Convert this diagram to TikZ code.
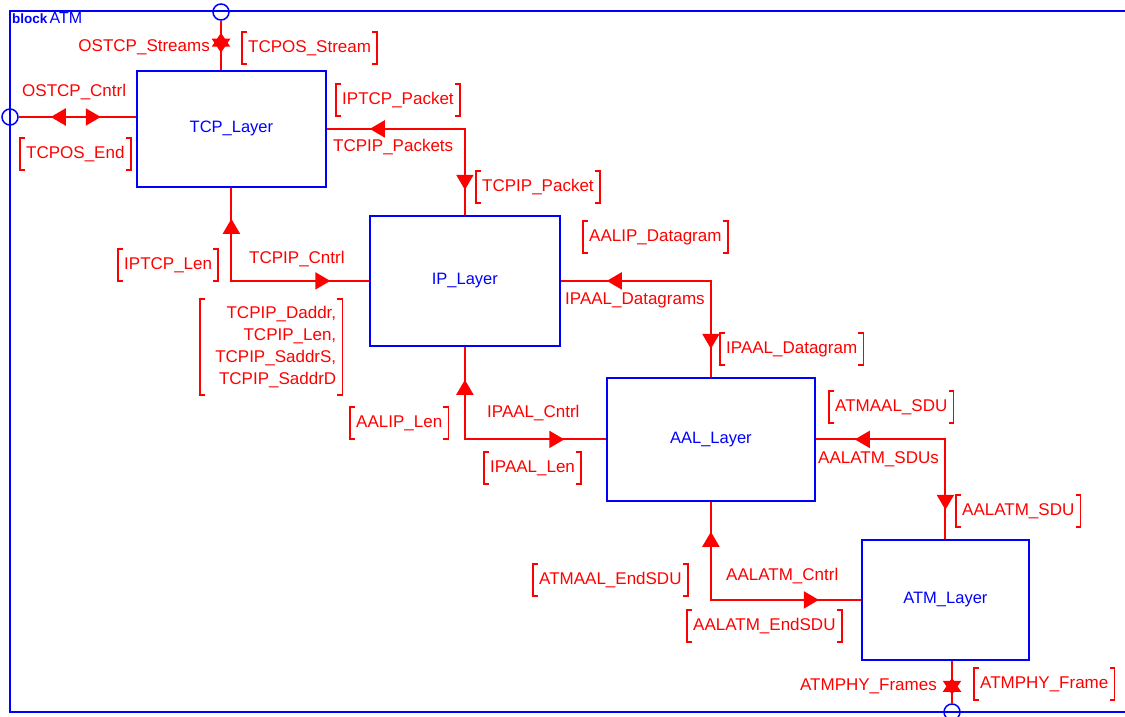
\documentclass[tikz,border=0pt]{standalone}
\usepackage{fontspec}
\setmainfont{Liberation Sans}
\usetikzlibrary{arrows.meta,decorations.markings}
\definecolor{sdlred}{RGB}{255,0,0}
\definecolor{sdlblue}{RGB}{0,0,255}
\tikzset{
  sdltri/.tip={Triangle[length=15pt,width=17pt]},
  sdlstar/.tip={Triangle[length=14pt,width=18pt]},
  layer/.style={draw=sdlblue, line width=1.8pt, text=sdlblue,
    font=\fontsize{16.5}{18}\selectfont, anchor=north west, inner sep=0pt},
  port/.style={draw=sdlblue, line width=1.5pt, circle, minimum size=16pt, inner sep=0pt},
  wire/.style={draw=sdlred, line width=2pt},
  sig/.style={text=sdlred, font=\fontsize{17}{19}\selectfont, inner sep=0pt},
  bnote/.style={sig, inner xsep=6pt, inner ysep=0pt, minimum height=31pt, anchor=west},
  bkt/.style={draw=sdlred, line width=1.8pt},
  % one reversed and one forward arrowhead along a channel
  marks/.style 2 args={postaction={decorate, decoration={markings,
      mark=at position #1 with {\arrowreversed{sdltri}},
      mark=at position #2 with {\arrow{sdltri}}}}},
  % two overlapping heads for a channel leaving the block
  starmarks/.style 2 args={postaction={decorate, decoration={markings,
      mark=at position #1 with {\arrowreversed{sdlstar}},
      mark=at position #2 with {\arrow{sdlstar}}}}},
}
% signal list in square brackets
\newcommand\brnote[3]{%
  \node[bnote] (#1) at (#2) {#3};
  \draw[bkt] ([xshift=5pt]#1.north west) -| (#1.south west) -- ++(5pt,0)
             ([xshift=-5pt]#1.north east) -| (#1.south east) -- ++(-5pt,0);
}
\begin{document}
\begin{tikzpicture}[x=1pt,y=-1pt]
\useasboundingbox (0,0) rectangle (1125,717);

% block frame
\draw[sdlblue, line width=1.8pt] (1130,11) -- (10,11) -- (10,712) -- (1130,712);
\node[anchor=base west, text=sdlblue, inner sep=0pt]
  (blk) at (12,24) {\fontsize{13.5}{15}\selectfont\textbf{block}\,\fontsize{16}{18}\selectfont ATM};

% gates on the frame
\node[port] (ptop) at (221,12) {};
\node[port] (pleft) at (10,117) {};
\node[port] (pbot) at (952,712) {};

% processes
\node[layer, minimum width=189pt, minimum height=116pt] (tcp) at (136,70) {TCP\_Layer};
\node[layer, minimum width=190pt, minimum height=130pt] (ip) at (369,215) {IP\_Layer};
\node[layer, minimum width=208pt, minimum height=123pt] (aal) at (606,377) {AAL\_Layer};
\node[layer, minimum width=167pt, minimum height=120pt] (atm) at (861,539) {ATM\_Layer};

% channels
\draw[wire, starmarks={12pt}{32pt}] (ptop.south) -- (ptop.south |- tcp.north);
\draw[wire, marks={32pt}{82pt}] (pleft.east) -- (pleft.east -| tcp.west);
\draw[wire, marks={43pt}{199pt}] (tcp.east) -| (ip.north);
\draw[wire, marks={31pt}{192pt}] (tcp.south) |- (ip.west);
\draw[wire, marks={46pt}{218pt}] (ip.east) -| (aal.north);
\draw[wire, marks={33pt}{192pt}] (ip.south) |- (aal.west);
\draw[wire, marks={39pt}{200pt}] (aal.east) -| (atm.north);
\draw[wire, marks={30pt}{206pt}] (aal.south) |- (atm.west);
\draw[wire, starmarks={17pt}{34pt}] (pbot.north |- atm.south) -- (pbot.north);

% channel names and signal lists
\node[sig, anchor=east] (cOSstreams) at (210,47) {OSTCP\_Streams};
\brnote{sTCPOSstream}{242,48}{TCPOS\_Stream}

\node[sig, anchor=west] (cOScntrl) at (22,92) {OSTCP\_Cntrl};
\brnote{sTCPOSend}{20,154}{TCPOS\_End}

\brnote{sIPTCPpacket}{336,100}{IPTCP\_Packet}
\node[sig, anchor=west] (cTCPIPpackets) at (333,147) {TCPIP\_Packets};
\brnote{sTCPIPpacket}{476,187}{TCPIP\_Packet}

\brnote{sIPTCPlen}{118,265}{IPTCP\_Len}
\node[sig, anchor=west] (cTCPIPcntrl) at (249,259) {TCPIP\_Cntrl};
\node[bnote, align=right, text width=130pt, minimum height=95pt, font=\fontsize{17}{22}\selectfont]
  (sTCPIPaddr) at (200,347) {TCPIP\_Daddr,\\TCPIP\_Len,\\TCPIP\_SaddrS,\\TCPIP\_SaddrD};
\draw[bkt] ([xshift=5pt]sTCPIPaddr.north west) -| (sTCPIPaddr.south west) -- ++(5pt,0)
           ([xshift=-5pt]sTCPIPaddr.north east) -| (sTCPIPaddr.south east) -- ++(-5pt,0);

\brnote{sAALIPdgram}{583,237}{AALIP\_Datagram}
\node[sig, anchor=west] (cIPAALdgrams) at (565,300) {IPAAL\_Datagrams};
\brnote{sIPAALdgram}{720,349}{IPAAL\_Datagram}

\brnote{sAALIPlen}{350,423}{AALIP\_Len}
\node[sig, anchor=west] (cIPAALcntrl) at (487,413) {IPAAL\_Cntrl};
\brnote{sIPAALlen}{484,468}{IPAAL\_Len}

\brnote{sATMAALsdu}{829,407}{ATMAAL\_SDU}
\node[sig, anchor=west] (cAALATMsdus) at (818,459) {AALATM\_SDUs};
\brnote{sAALATMsdu}{956,511}{AALATM\_SDU}

\brnote{sATMAALend}{533,580}{ATMAAL\_EndSDU}
\node[sig, anchor=west] (cAALATMcntrl) at (726,576) {AALATM\_Cntrl};
\brnote{sAALATMend}{687,626}{AALATM\_EndSDU}

\node[sig, anchor=east] (cATMPHYframes) at (937,686) {ATMPHY\_Frames};
\brnote{sATMPHYframe}{974,684}{ATMPHY\_Frame}
\end{tikzpicture}
\end{document}
